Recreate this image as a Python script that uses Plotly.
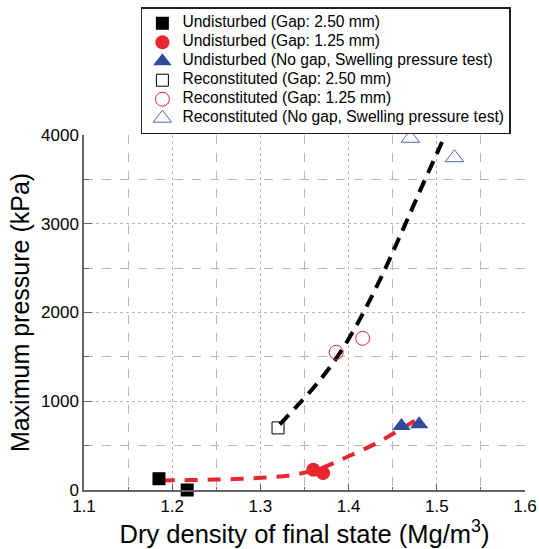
import plotly.graph_objects as go

# ---- data ----
und_250_x = [1.185, 1.217]
und_250_y = [127, 0]
und_125_x = [1.360, 1.371]
und_125_y = [229, 190]
und_sw_x = [1.460, 1.480]
und_sw_y = [721, 740]
rec_250_x = [1.320]
rec_250_y = [700]
rec_125_x = [1.386, 1.416]
rec_125_y = [1551, 1709]
rec_sw_x = [1.470, 1.520]
rec_sw_y = [3963, 3744]

# trend curves
black_fit_x = [1.322, 1.34, 1.36, 1.38, 1.40, 1.42, 1.44, 1.46, 1.48, 1.50, 1.51, 1.52]
black_fit_y = [740, 930, 1150, 1400, 1700, 2060, 2460, 2900, 3350, 3790, 4010, 4230]
red_fit_x = [1.188, 1.22, 1.25, 1.28, 1.31, 1.34, 1.37, 1.40, 1.43, 1.45, 1.475]
red_fit_y = [108, 112, 117, 128, 142, 175, 250, 380, 520, 630, 780]

legend_names = [
    "Undisturbed (Gap: 2.50 mm)",
    "Undisturbed (Gap: 1.25 mm)",
    "Undisturbed (No gap, Swelling pressure test)",
    "Reconstituted (Gap: 2.50 mm)",
    "Reconstituted (Gap: 1.25 mm)",
    "Reconstituted (No gap, Swelling pressure test)",
]

RED = "#e8262d"
BLUE = "#2e4c9c"
BLUE_OPEN = "#4d66b8"


def lg(name):
    return '<span style="font-size:15.6px">' + name + "</span>"


fig = go.Figure()

fig.add_trace(go.Scatter(x=red_fit_x, y=red_fit_y, mode="lines", line_shape="spline",
                         line=dict(color=RED, width=4, dash="13px,10px"), showlegend=False,
                         hoverinfo="skip"))
fig.add_trace(go.Scatter(x=black_fit_x, y=black_fit_y, mode="lines", line_shape="spline",
                         line=dict(color="black", width=4, dash="13px,8px"), showlegend=False,
                         hoverinfo="skip"))

fig.add_trace(go.Scatter(x=und_250_x, y=und_250_y, mode="markers", name=lg(legend_names[0]),
                         marker=dict(symbol="square", size=13, color="black"), cliponaxis=False))
fig.add_trace(go.Scatter(x=und_125_x, y=und_125_y, mode="markers", name=lg(legend_names[1]),
                         marker=dict(symbol="circle", size=14, color=RED), cliponaxis=False))
fig.add_trace(go.Scatter(x=und_sw_x, y=und_sw_y, mode="markers", name=lg(legend_names[2]),
                         marker=dict(symbol="triangle-up", size=16, color=BLUE), cliponaxis=False))
fig.add_trace(go.Scatter(x=rec_250_x, y=rec_250_y, mode="markers", name=lg(legend_names[3]),
                         marker=dict(symbol="square-open", size=12, color="black",
                                     line=dict(width=1)), cliponaxis=False))
fig.add_trace(go.Scatter(x=rec_125_x, y=rec_125_y, mode="markers", name=lg(legend_names[4]),
                         marker=dict(symbol="circle-open", size=14, color=RED,
                                     line=dict(width=1)), cliponaxis=False))
fig.add_trace(go.Scatter(x=rec_sw_x, y=rec_sw_y, mode="markers", name=lg(legend_names[5]),
                         marker=dict(symbol="triangle-up-open", size=16, color=BLUE_OPEN,
                                     line=dict(width=1)), cliponaxis=False))

fig.update_layout(
    width=539, height=549,
    margin=dict(l=84, r=14, t=135, b=59, autoexpand=False),
    plot_bgcolor="white", paper_bgcolor="white",
    font=dict(family="Liberation Sans, Arial, sans-serif", color="black"),
    showlegend=True,
    legend=dict(
        x=0.129, y=1.36, xanchor="left", yanchor="top",
        bgcolor="white", bordercolor="#222222", borderwidth=1.5,
        font=dict(size=11, family="Liberation Sans, Arial, sans-serif"),
        tracegroupgap=0, itemsizing="trace",
    ),
)

GRID = "#b8b8b8"
AX = "#666666"
fig.update_xaxes(
    range=[1.1, 1.6], dtick=0.1, tick0=1.1, tickformat=".1f",
    showline=True, linecolor=AX, linewidth=1.5,
    ticks="inside", ticklen=6, tickcolor=AX,
    showgrid=True, gridcolor=GRID, gridwidth=1, griddash="dot",
    minor=dict(dtick=0.05, showgrid=True, gridcolor=GRID, griddash="dash",
               ticks="inside", ticklen=3, tickcolor=AX),
    zeroline=False,
    tickfont=dict(size=17),
    title=dict(text="Dry density of final state (Mg/m<sup>3</sup>)", font=dict(size=25.5), standoff=6),
)
fig.update_yaxes(
    range=[0, 4000], dtick=1000,
    showline=True, linecolor=AX, linewidth=1.5,
    ticks="inside", ticklen=8, tickcolor=AX,
    showgrid=True, gridcolor=GRID, gridwidth=1, griddash="dot",
    minor=dict(dtick=500, showgrid=True, gridcolor=GRID, griddash="dash",
               ticks="inside", ticklen=5, tickcolor=AX),
    zeroline=False,
    tickfont=dict(size=17),
    title=dict(text="Maximum pressure (kPa)", font=dict(size=25), standoff=4),
)

fig.write_html(
    "out.html",
    config={"displayModeBar": False},
    post_script="document.body.style.margin='0';document.body.style.overflow='hidden';",
)
